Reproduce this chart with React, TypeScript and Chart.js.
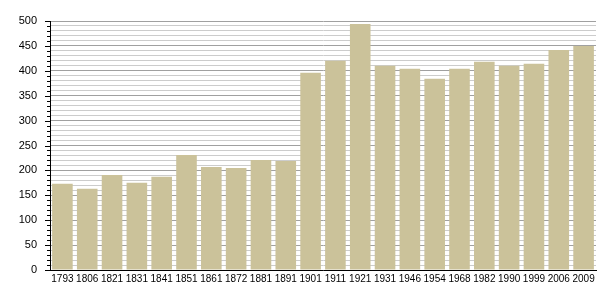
import React, { useEffect, useRef } from "react";
import { Chart, registerables } from "chart.js";

Chart.register(...registerables);

const years = ["1793","1806","1821","1831","1841","1851","1861","1872","1881","1891","1901","1911","1921","1931","1946","1954","1968","1982","1990","1999","2006","2009"];
const population = [173,163,191,175,187,231,207,205,221,219,396,420,494,410,404,384,404,418,410,414,442,450];

const tickMarks = {
  id: "tickMarks",
  afterDraw(chart: any) {
    const y = chart.scales.y;
    const ctx = chart.ctx;
    const x0 = chart.chartArea.left;
    ctx.save();
    ctx.strokeStyle = "#000";
    ctx.lineWidth = 1;
    for (let v = 0; v <= 500; v += 10) {
      const py = Math.round(y.getPixelForValue(v)) + 0.5;
      const len = v % 50 === 0 ? 5 : 3;
      ctx.beginPath();
      ctx.moveTo(x0 - len, py);
      ctx.lineTo(x0, py);
      ctx.stroke();
    }
    ctx.restore();
  },
};

export default function App() {
  const ref = useRef<HTMLCanvasElement>(null);
  useEffect(() => {
    const chart = new Chart(ref.current!, {
      type: "bar",
      data: {
        labels: years,
        datasets: [
          {
            data: population,
            backgroundColor: "#cbc29a",
            categoryPercentage: 1,
            barPercentage: 0.83,
          },
        ],
      },
      options: {
        animation: false,
        responsive: false,
        maintainAspectRatio: false,
        layout: { padding: { left: 0, right: 9, top: 21, bottom: 0 } },
        plugins: { legend: { display: false }, tooltip: { enabled: false } },
        scales: {
          x: {
            grid: { display: false, drawOnChartArea: false, drawTicks: false },
            border: { display: true, color: "#000", width: 1 },
            ticks: {
              color: "#000",
              font: { family: "'Liberation Sans', Arial, sans-serif", size: 10 },
              padding: 3,
              maxRotation: 0,
              autoSkip: false,
            },
            afterFit: (s: any) => { s.height = 30; },
          },
          y: {
            min: 0,
            max: 500,
            grid: {
              color: (c: any) => (c.tick && c.tick.value % 50 === 0 ? "#a0a0a0" : "#cccccc"),
              tickColor: "transparent",
              tickLength: 5,
            },
            border: { display: true, color: "#000", width: 1 },
            ticks: {
              stepSize: 10,
              autoSkip: false,
              color: "#000",
              padding: 8,
              font: { family: "'Liberation Sans', Arial, sans-serif", size: 11 },
              callback: (v: any) => (Number(v) % 50 === 0 ? String(v) : ""),
            },
            afterFit: (s: any) => { s.width = 50; },
          },
        },
      },
      plugins: [tickMarks],
    });
    return () => chart.destroy();
  }, []);
  return (
    <div style={{ position: "absolute", left: 0, top: 0, width: 605, height: 300, background: "#fff" }}>
      <canvas ref={ref} width={605} height={300} style={{ width: 605, height: 300 }} />
    </div>
  );
}
